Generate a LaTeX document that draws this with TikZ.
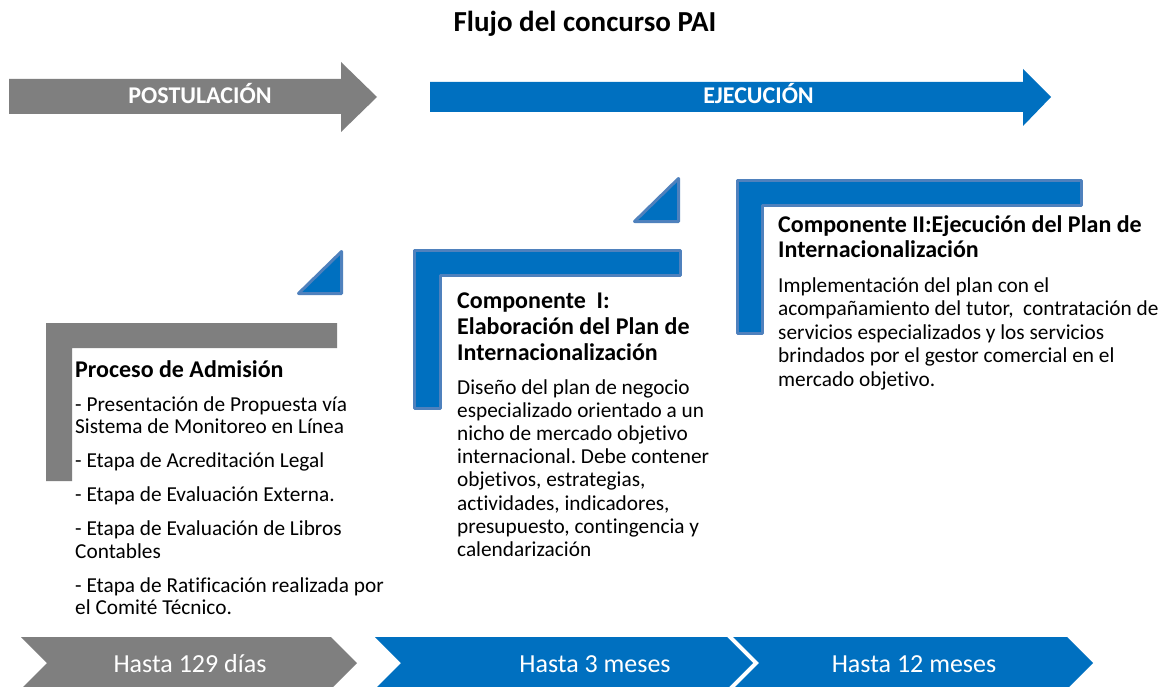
\documentclass[tikz,border=0pt]{standalone}
\usepackage{fontspec}
\setmainfont{Carlito}[RawFeature=-liga]
\frenchspacing
\definecolor{grayfill}{HTML}{7F7F7F}
\definecolor{bluefill}{HTML}{0070C0}
\definecolor{blueedge}{HTML}{4F81BD}
\tikzset{
  grayshape/.style={fill=grayfill,draw=none},
  blueshape/.style={fill=bluefill,draw=none},
  bordered/.style={fill=bluefill,draw=blueedge,line width=3pt,line join=round},
  arrowlabel/.style={text=white,font=\bfseries\fontsize{24}{26}\selectfont,inner sep=0pt,anchor=base},
  chevlabel/.style={text=white,font=\fontsize{26}{28}\selectfont,inner sep=0pt,anchor=base},
  headtext/.style={font=\bfseries\fontsize{24}{26}\selectfont,inner sep=0pt,anchor=base west,align=left},
  bodytext/.style={font=\fontsize{21.3}{23.2}\selectfont,inner sep=0pt,anchor=base west,align=left},
}
\begin{document}
\begin{tikzpicture}[x=1pt,y=-1pt]
\useasboundingbox (0,0) rectangle (1169,687);
\clip (0,0) rectangle (1169,687);
\fill[white] (0,0) rectangle (1169,687);

% title
\node[font=\bfseries\fontsize{29}{31}\selectfont,inner sep=0pt,anchor=base] (title) at (585,31.5) {Flujo del concurso PAI};

% top arrows
\path[grayshape] (9,79) -- (341,79) -- (341,62) -- (377,97) -- (341,132) -- (341,114) -- (9,114) -- cycle;
\node[arrowlabel] (post) at (200,104) {POSTULACIÓN};
\path[blueshape] (430,82) -- (1023,82) -- (1023,69) -- (1051,97) -- (1023,126) -- (1023,112) -- (430,112) -- cycle;
\node[arrowlabel] (ejec) at (758.5,104) {EJECUCIÓN};

% step shapes
\path[grayshape] (46,323) -- (337,323) -- (337,348) -- (72,348) -- (72,481) -- (46,481) -- cycle;
\path[bordered] (298.5,293.5) -- (341.5,251.5) -- (341.5,293.5) -- cycle;
\path[bordered] (414.5,250.5) -- (680.5,250.5) -- (680.5,275.5) -- (440.5,275.5) -- (440.5,408.5) -- (414.5,408.5) -- cycle;
\path[bordered] (634.5,221.5) -- (678.5,178.5) -- (678.5,221.5) -- cycle;
\path[bordered] (737.5,180.5) -- (1081.5,180.5) -- (1081.5,205.5) -- (762.5,205.5) -- (762.5,333.5) -- (737.5,333.5) -- cycle;

% texts (multi-line nodes are anchored at the baseline of their last line)
\node[headtext] (h0) at (75,377) {Proceso de Admisión};
\node[bodytext,font=\fontsize{21.3}{22.5}\selectfont] (b0) at (75,614.5) {- Presentación de Propuesta vía\\Sistema de Monitoreo en Línea\\[11.5pt]- Etapa de Acreditación Legal\\[11.5pt]- Etapa de Evaluación Externa.\\[11.5pt]- Etapa de Evaluación de Libros\\Contables\\[11.5pt]- Etapa de Ratificación realizada por\\el Comité Técnico.};

\node[headtext] (h1) at (457,360) {Componente~~I:\\Elaboración del Plan de\\Internacionalización};
\node[bodytext] (b1) at (457,556.4) {Diseño del plan de negocio\\especializado orientado a un\\nicho de mercado objetivo\\internacional. Debe contener\\objetivos, estrategias,\\actividades, indicadores,\\presupuesto, contingencia y\\calendarización};

\node[headtext,font=\bfseries\fontsize{24}{25}\selectfont] (h2) at (778,257) {Componente II:Ejecución del Plan de\\Internacionalización};
\node[bodytext,font=\fontsize{21.3}{23.5}\selectfont] (b2) at (778,386) {Implementación del plan con el\\acompañamiento del tutor,~~contratación de\\servicios especializados y los servicios\\brindados por el gestor comercial en el\\mercado objetivo.};

% bottom chevrons
\path[grayshape] (21,637) -- (331,637) -- (357,663) -- (331,689) -- (21,689) -- (47,663) -- cycle;
\node[chevlabel] (c1) at (190,672) {Hasta 129 días};
\path[blueshape] (375,637) -- (727,637) -- (753,663) -- (727,689) -- (375,689) -- (401,663) -- cycle;
\node[chevlabel] (c2) at (595,672) {Hasta 3 meses};
\path[blueshape] (733,637) -- (1067,637) -- (1093,663) -- (1067,689) -- (733,689) -- (759,663) -- cycle;
\node[chevlabel] (c3) at (914,672) {Hasta 12 meses};
\end{tikzpicture}
\end{document}
